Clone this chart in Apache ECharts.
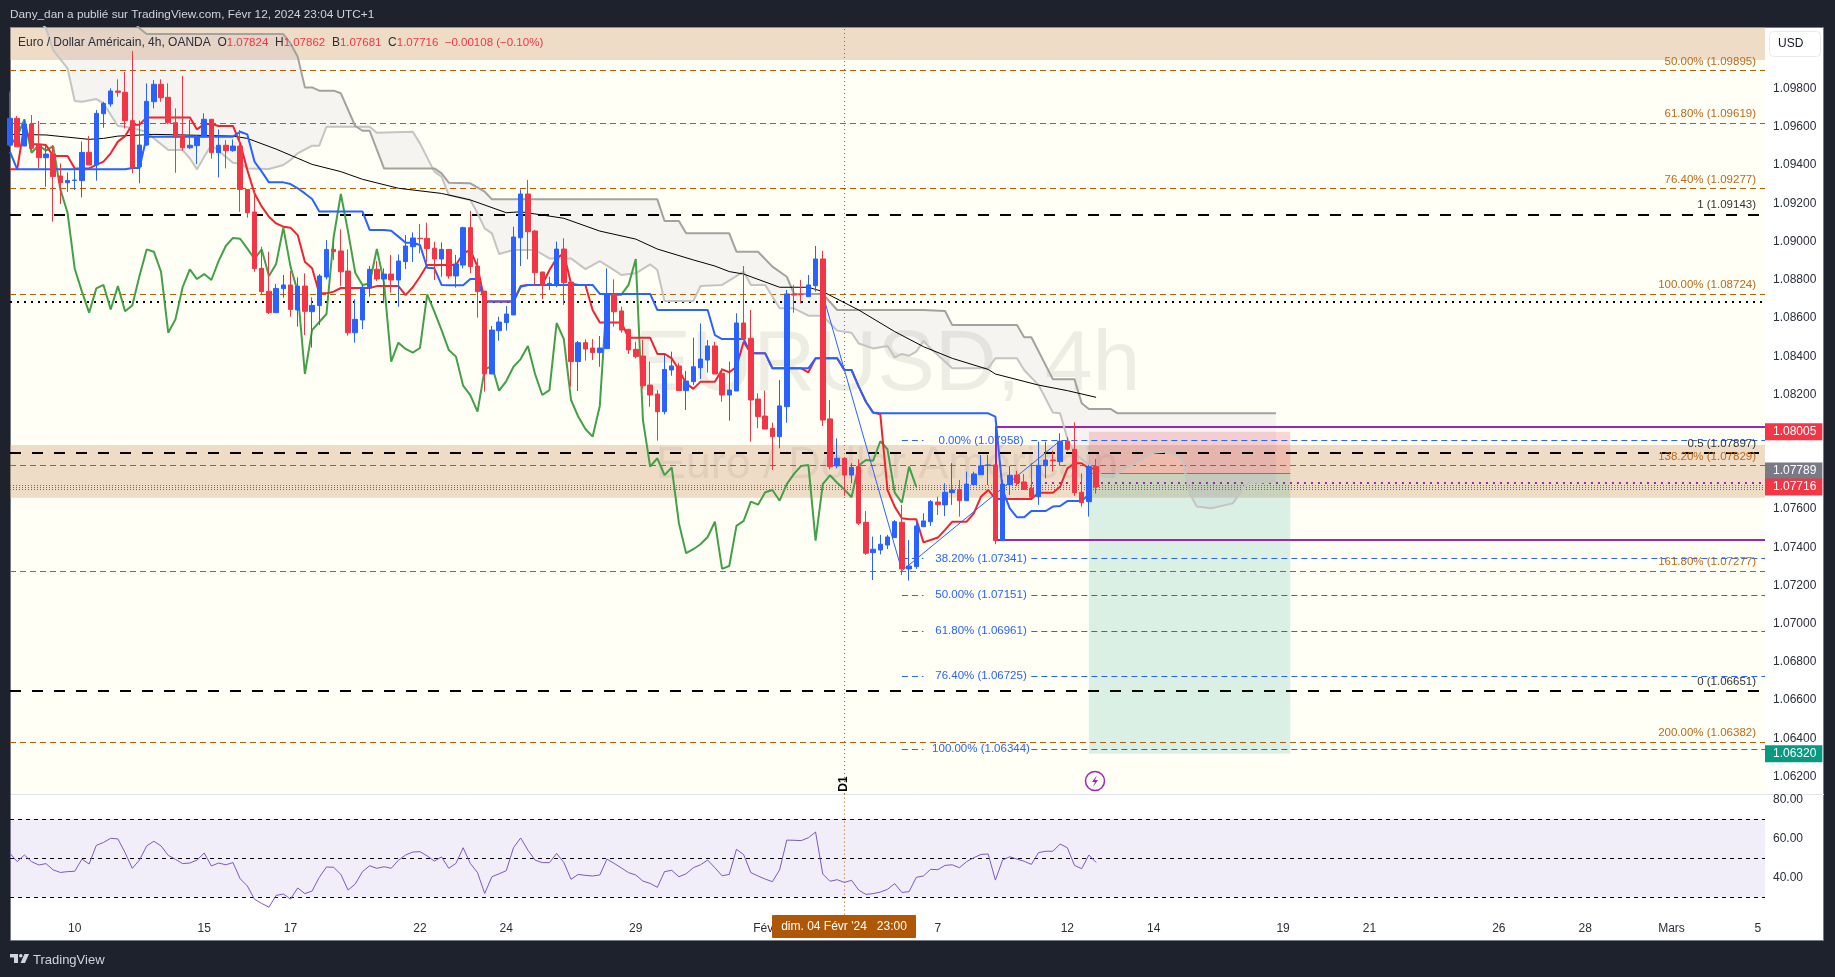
<!DOCTYPE html>
<html><head><meta charset="utf-8">
<style>html,body{margin:0;padding:0;background:#1e222d}#c{width:1835px;height:977px}</style>
<script src="https://cdn.jsdelivr.net/npm/echarts@6/dist/echarts.min.js"></script>
</head><body><div id="c"></div>
<script>
const barOpen=[1.09505,1.09645,1.09500,1.09615,1.09505,1.09439,1.09458,1.09343,1.09308,1.09320,1.09319,1.09467,1.09401,1.09669,1.09720,1.09788,1.09781,1.09633,1.09392,1.09505,1.09732,1.09823,1.09755,1.09622,1.09552,1.09491,1.09502,1.09549,1.09640,1.09465,1.09504,1.09476,1.09500,1.09273,1.09155,1.08860,1.08740,1.08628,1.08754,1.08773,1.08642,1.08767,1.08633,1.08665,1.08815,1.08959,1.08951,1.08846,1.08523,1.08590,1.08757,1.08855,1.08804,1.08830,1.08799,1.08895,1.08973,1.09017,1.09017,1.08965,1.08909,1.08959,1.08820,1.08877,1.09073,1.08872,1.08741,1.08307,1.08534,1.08576,1.08616,1.09020,1.09249,1.09055,1.08841,1.08773,1.08778,1.08961,1.08788,1.08372,1.08471,1.08443,1.08419,1.08440,1.08724,1.08637,1.08541,1.08436,1.08401,1.08249,1.08202,1.08110,1.08328,1.08349,1.08220,1.08267,1.08340,1.08380,1.08454,1.08311,1.08197,1.08218,1.08574,1.08494,1.08176,1.08087,1.08023,1.07979,1.08136,1.08726,1.08724,1.08712,1.08769,1.08909,1.08072,1.07826,1.07866,1.07778,1.07822,1.07531,1.07372,1.07386,1.07412,1.07451,1.07531,1.07287,1.07299,1.07508,1.07534,1.07637,1.07622,1.07686,1.07702,1.07644,1.07728,1.07780,1.07829,1.07831,1.07435,1.07728,1.07778,1.07742,1.07709,1.07665,1.07827,1.07857,1.07848,1.07955,1.07913,1.07688,1.07639,1.07824];
const barClose=[1.09645,1.09496,1.09615,1.09488,1.09439,1.09458,1.09340,1.09308,1.09320,1.09322,1.09467,1.09401,1.09671,1.09723,1.09788,1.09781,1.09633,1.09388,1.09505,1.09734,1.09823,1.09753,1.09622,1.09545,1.09491,1.09504,1.09549,1.09640,1.09465,1.09504,1.09476,1.09500,1.09273,1.09151,1.08858,1.08738,1.08628,1.08755,1.08773,1.08645,1.08767,1.08635,1.08666,1.08820,1.08959,1.08947,1.08842,1.08523,1.08593,1.08761,1.08855,1.08804,1.08830,1.08799,1.08898,1.08977,1.09019,1.09015,1.08963,1.08909,1.08959,1.08820,1.08883,1.09073,1.08869,1.08738,1.08307,1.08537,1.08579,1.08621,1.09024,1.09249,1.09052,1.08837,1.08773,1.08781,1.08961,1.08785,1.08372,1.08471,1.08438,1.08419,1.08443,1.08724,1.08633,1.08537,1.08433,1.08398,1.08246,1.08197,1.08110,1.08331,1.08349,1.08220,1.08270,1.08345,1.08385,1.08454,1.08307,1.08197,1.08223,1.08574,1.08490,1.08171,1.08084,1.08019,1.07979,1.08140,1.08726,1.08720,1.08722,1.08773,1.08909,1.08066,1.07822,1.07866,1.07778,1.07818,1.07526,1.07369,1.07390,1.07416,1.07454,1.07534,1.07287,1.07302,1.07512,1.07538,1.07639,1.07623,1.07688,1.07700,1.07644,1.07731,1.07784,1.07826,1.07831,1.07435,1.07731,1.07777,1.07738,1.07703,1.07662,1.07829,1.07857,1.07853,1.07955,1.07913,1.07686,1.07634,1.07822,1.07716];
const barHigh=[1.09785,1.09657,1.09636,1.09662,1.09631,1.09505,1.09505,1.09409,1.09362,1.09374,1.09523,1.09552,1.09688,1.09732,1.09802,1.09849,1.09887,1.09997,1.09633,1.09828,1.09845,1.09849,1.09828,1.09697,1.09866,1.09636,1.09558,1.09671,1.09640,1.09587,1.09531,1.09535,1.09584,1.09273,1.09270,1.08973,1.08947,1.08778,1.08825,1.08846,1.08813,1.08834,1.08708,1.08830,1.09008,1.09029,1.09064,1.08959,1.08698,1.08773,1.08872,1.08898,1.08860,1.08930,1.08933,1.09034,1.09048,1.09092,1.09099,1.09000,1.08996,1.08959,1.08930,1.09078,1.09160,1.08912,1.08741,1.08558,1.08607,1.08663,1.09078,1.09273,1.09322,1.09061,1.08841,1.08816,1.09000,1.09017,1.08788,1.08480,1.08488,1.08490,1.08506,1.08860,1.08802,1.08659,1.08541,1.08476,1.08485,1.08372,1.08223,1.08406,1.08424,1.08363,1.08323,1.08497,1.08572,1.08485,1.08476,1.08337,1.08372,1.08625,1.08872,1.08642,1.08206,1.08220,1.08052,1.08276,1.08747,1.08773,1.08799,1.08825,1.08977,1.08951,1.08171,1.07970,1.07866,1.07840,1.07861,1.07590,1.07456,1.07465,1.07465,1.07543,1.07622,1.07438,1.07534,1.07578,1.07648,1.07665,1.07735,1.07840,1.07752,1.07796,1.07796,1.07883,1.07883,1.07831,1.07752,1.07826,1.07801,1.07784,1.07840,1.07953,1.07953,1.07906,1.07997,1.07976,1.08054,1.07787,1.07831,1.07862];
const barLow=[1.09496,1.09496,1.09500,1.09479,1.09383,1.09287,1.09104,1.09197,1.09261,1.09270,1.09231,1.09401,1.09319,1.09596,1.09706,1.09758,1.09592,1.09357,1.09305,1.09502,1.09697,1.09732,1.09615,1.09360,1.09476,1.09484,1.09406,1.09545,1.09434,1.09336,1.09383,1.09470,1.09156,1.09125,1.08842,1.08720,1.08621,1.08628,1.08706,1.08607,1.08555,1.08511,1.08445,1.08563,1.08802,1.08904,1.08767,1.08508,1.08471,1.08542,1.08712,1.08794,1.08677,1.08733,1.08659,1.08856,1.08893,1.08938,1.08890,1.08799,1.08816,1.08806,1.08759,1.08860,1.08834,1.08602,1.08215,1.08307,1.08481,1.08534,1.08616,1.08872,1.08907,1.08773,1.08699,1.08747,1.08761,1.08668,1.08241,1.08218,1.08377,1.08380,1.08345,1.08440,1.08555,1.08523,1.08412,1.08389,1.08232,1.08136,1.07958,1.08096,1.08298,1.08220,1.08119,1.08249,1.08281,1.08314,1.08307,1.08162,1.08063,1.08218,1.08490,1.07953,1.08023,1.08019,1.07805,1.07918,1.08052,1.08628,1.08677,1.08712,1.08738,1.08035,1.07808,1.07813,1.07670,1.07735,1.07517,1.07360,1.07229,1.07363,1.07391,1.07451,1.07255,1.07226,1.07287,1.07508,1.07512,1.07569,1.07564,1.07622,1.07561,1.07644,1.07728,1.07780,1.07726,1.07416,1.07435,1.07674,1.07721,1.07700,1.07657,1.07622,1.07761,1.07796,1.07827,1.07906,1.07669,1.07613,1.07561,1.07681];
const tenkan=[1.09378,1.09378,1.09610,1.09509,1.09509,1.09505,1.09448,1.09448,1.09448,1.09383,1.09383,1.09383,1.09401,1.09418,1.09462,1.09523,1.09552,1.09612,1.09612,1.09650,1.09650,1.09650,1.09650,1.09650,1.09650,1.09650,1.09587,1.09615,1.09615,1.09605,1.09605,1.09605,1.09514,1.09374,1.09252,1.09183,1.09130,1.09095,1.09078,1.09073,1.09034,1.08895,1.08860,1.08729,1.08729,1.08738,1.08757,1.08757,1.08757,1.08757,1.08757,1.08767,1.08767,1.08767,1.08767,1.08720,1.08761,1.08816,1.08877,1.08877,1.08877,1.08877,1.08877,1.08938,1.08956,1.08869,1.08686,1.08686,1.08686,1.08686,1.08686,1.08767,1.08773,1.08773,1.08773,1.08851,1.08912,1.08938,1.08781,1.08773,1.08773,1.08642,1.08576,1.08576,1.08576,1.08576,1.08497,1.08497,1.08497,1.08497,1.08412,1.08412,1.08389,1.08328,1.08258,1.08229,1.08267,1.08267,1.08267,1.08331,1.08316,1.08345,1.08476,1.08415,1.08415,1.08415,1.08337,1.08337,1.08337,1.08337,1.08337,1.08316,1.08389,1.08389,1.08389,1.08389,1.08328,1.08328,1.08241,1.08162,1.08105,1.08096,1.07700,1.07613,1.07552,1.07547,1.07547,1.07426,1.07438,1.07451,1.07491,1.07534,1.07534,1.07534,1.07578,1.07665,1.07700,1.07653,1.07653,1.07653,1.07653,1.07653,1.07653,1.07686,1.07686,1.07686,1.07717,1.07813,1.07840,1.07840,1.07813,1.07813];
const kijun=[1.09470,1.09378,1.09378,1.09378,1.09378,1.09378,1.09378,1.09378,1.09378,1.09378,1.09378,1.09378,1.09378,1.09378,1.09378,1.09378,1.09378,1.09385,1.09385,1.09549,1.09549,1.09549,1.09549,1.09549,1.09549,1.09549,1.09549,1.09549,1.09549,1.09549,1.09549,1.09549,1.09575,1.09561,1.09418,1.09366,1.09310,1.09310,1.09310,1.09301,1.09279,1.09252,1.09223,1.09158,1.09158,1.09158,1.09158,1.09158,1.09158,1.09158,1.09061,1.09061,1.09061,1.09057,1.09026,1.08994,1.08994,1.08982,1.08863,1.08860,1.08773,1.08771,1.08771,1.08771,1.08804,1.08804,1.08686,1.08686,1.08686,1.08686,1.08686,1.08764,1.08773,1.08773,1.08773,1.08773,1.08773,1.08773,1.08773,1.08773,1.08773,1.08773,1.08726,1.08726,1.08726,1.08726,1.08726,1.08726,1.08726,1.08726,1.08642,1.08642,1.08642,1.08642,1.08642,1.08642,1.08642,1.08642,1.08511,1.08490,1.08490,1.08490,1.08490,1.08415,1.08415,1.08415,1.08337,1.08337,1.08337,1.08337,1.08337,1.08337,1.08389,1.08389,1.08389,1.08389,1.08328,1.08328,1.08241,1.08162,1.08105,1.08101,1.08101,1.08101,1.08101,1.08101,1.08101,1.08101,1.08101,1.08101,1.08101,1.08101,1.08101,1.08101,1.08101,1.08101,1.08101,1.08084,1.07700,1.07604,1.07557,1.07557,1.07590,1.07590,1.07590,1.07613,1.07616,1.07642,1.07642,1.07642,1.07677];
const chikou=[1.09504,1.09549,1.09640,1.09465,1.09504,1.09476,1.09500,1.09273,1.09151,1.08858,1.08738,1.08628,1.08755,1.08773,1.08645,1.08767,1.08635,1.08666,1.08820,1.08959,1.08947,1.08842,1.08523,1.08593,1.08761,1.08855,1.08804,1.08830,1.08799,1.08898,1.08977,1.09019,1.09015,1.08963,1.08909,1.08959,1.08820,1.08883,1.09073,1.08869,1.08738,1.08307,1.08537,1.08579,1.08621,1.09024,1.09249,1.09052,1.08837,1.08773,1.08781,1.08961,1.08785,1.08372,1.08471,1.08438,1.08419,1.08443,1.08724,1.08633,1.08537,1.08433,1.08398,1.08246,1.08197,1.08110,1.08331,1.08349,1.08220,1.08270,1.08345,1.08385,1.08454,1.08307,1.08197,1.08223,1.08574,1.08490,1.08171,1.08084,1.08019,1.07979,1.08140,1.08726,1.08720,1.08722,1.08773,1.08909,1.08066,1.07822,1.07866,1.07778,1.07818,1.07526,1.07369,1.07390,1.07416,1.07454,1.07534,1.07287,1.07302,1.07512,1.07538,1.07639,1.07623,1.07688,1.07700,1.07644,1.07731,1.07784,1.07826,1.07831,1.07435,1.07731,1.07777,1.07738,1.07703,1.07662,1.07829,1.07857,1.07853,1.07955,1.07913,1.07686,1.07634,1.07822,1.07716];
// [bar index, price] vertices
const senkouA=[[4,1.10159],[5,1.10116],[6,1.10002],[8,1.09906],[9,1.09736],[10,1.09732],[12,1.09746],[13,1.09723],[15,1.09605],[16,1.09601],[18,1.09584],[19,1.09575],[20,1.09540],[22,1.09479],[24,1.09479],[25,1.09436],[26,1.09378],[27,1.09444],[28,1.09505],[31,1.09413],[32,1.09409],[33,1.09383],[36,1.09380],[38,1.09401],[39,1.09427],[40,1.09462],[42,1.09502],[43,1.09502],[44,1.09601],[50,1.09601],[51,1.09570],[56,1.09575],[57,1.09514],[59,1.09366],[60,1.09340],[61,1.09244],[64,1.09218],[65,1.09148],[66,1.09069],[67,1.09043],[68,1.08935],[70,1.08956],[73,1.08956],[75,1.08912],[78,1.08912],[80,1.08856],[82,1.08898],[84,1.08851],[85,1.08825],[87,1.08834],[89,1.08881],[90,1.08851],[91,1.08689],[95,1.08689],[96,1.08767],[99,1.08773],[102,1.08843],[103,1.08773],[105,1.08773],[107,1.08651],[109,1.08651],[111,1.08612],[113,1.08612],[115,1.08534],[117,1.08523],[118,1.08467],[120,1.08441],[122,1.08454],[123,1.08394],[124,1.08412],[125,1.08403],[126,1.08424],[127,1.08480],[128,1.08441],[131,1.08337],[136,1.08337],[137,1.08389],[140,1.08389],[141,1.08328],[143,1.08249],[145,1.08105],[146,1.08101],[147,1.07970],[148,1.07892],[152,1.07770],[153,1.07766],[159,1.07895],[161,1.07901],[163,1.07866],[164,1.07683],[165,1.07613],[167,1.07604],[170,1.07630],[172,1.07735],[176,1.07744]];
const senkouB=[[17,1.10159],[18,1.10116],[19,1.10086],[38,1.10086],[39,1.10037],[40,1.09967],[41,1.09807],[42,1.09807],[43,1.09790],[45,1.09790],[46,1.09776],[48,1.09605],[49,1.09580],[50,1.09580],[52,1.09383],[59,1.09383],[60,1.09357],[61,1.09308],[64,1.09305],[66,1.09261],[67,1.09221],[90,1.09221],[91,1.09108],[93,1.09108],[94,1.09043],[100,1.09043],[101,1.08947],[104,1.08947],[106,1.08869],[108,1.08816],[109,1.08726],[113,1.08726],[115,1.08642],[127,1.08642],[130,1.08637],[131,1.08563],[140,1.08563],[141,1.08499],[142,1.08499],[145,1.08279],[148,1.08279],[149,1.08154],[150,1.08124],[153,1.08124],[154,1.08101],[176,1.08101]];
const trendAverage=[[0,1.09561],[5,1.09558],[11,1.09535],[13,1.09540],[15,1.09552],[20,1.09561],[24,1.09558],[31,1.09552],[33,1.09540],[37,1.09484],[40,1.09436],[42,1.09404],[46,1.09366],[49,1.09326],[54,1.09279],[60,1.09252],[64,1.09218],[69,1.09151],[71,1.09156],[77,1.09122],[82,1.09055],[87,1.09013],[90,1.08961],[95,1.08904],[98,1.08872],[100,1.08843],[102,1.08830],[107,1.08761],[111,1.08761],[113,1.08738],[118,1.08642],[123,1.08529],[127,1.08450],[131,1.08389],[136,1.08331],[137,1.08307],[143,1.08249],[147,1.08220],[151,1.08185]];
const fibSwing=[[113,1.08724],[124,1.07277],[146,1.07958]];
const rsi=[52.4,48.2,51.6,48.2,46.5,47.2,44.0,42.7,43.1,43.3,49.5,47.0,56.5,58.0,60.1,59.8,52.8,44.8,49.0,56.2,58.6,56.2,51.4,49.4,47.2,47.5,49.0,52.6,46.0,47.5,46.6,47.7,39.5,35.8,29.0,26.9,25.0,31.0,31.7,29.1,34.8,31.9,33.2,40.2,45.5,45.3,41.7,33.7,36.8,43.1,46.1,44.8,45.6,44.8,48.9,51.6,53.1,53.3,51.1,48.5,50.6,44.8,47.3,55.3,47.3,42.6,32.0,40.5,42.0,43.6,55.3,60.3,54.1,49.0,47.7,47.7,52.4,47.8,39.2,41.7,41.2,40.9,41.4,49.5,47.3,45.0,42.6,41.4,38.3,37.1,35.1,43.1,43.8,40.5,42.0,45.1,46.6,49.0,45.1,41.0,41.7,54.5,51.8,42.6,40.9,39.3,38.0,44.0,59.2,59.1,58.9,60.4,63.3,41.9,38.2,39.0,37.6,38.7,33.7,31.5,31.9,32.7,34.1,37.0,32.5,32.9,40.2,40.9,44.3,44.1,46.3,46.6,45.1,48.2,50.2,51.9,52.1,38.8,49.0,50.7,49.5,48.4,46.8,52.8,53.5,53.5,57.2,55.3,46.3,44.6,51.6,47.8];

const orangeLevels=[1.09895,1.09619,1.09277,1.08724,1.07829,1.07277,1.06382];
const orangeLabels=['50.00% (1.09895)','61.80% (1.09619)','76.40% (1.09277)','100.00% (1.08724)','138.20% (1.07829)','161.80% (1.07277)','200.00% (1.06382)'];
const blackLevels=[1.09143,1.07897,1.06651];
const blackLabels=['1 (1.09143)','0.5 (1.07897)','0 (1.06651)'];
const blueLevels=[1.07958,1.07341,1.07151,1.06961,1.06725,1.06344];
const blueLabels=['0.00% (1.07958)','38.20% (1.07341)','50.00% (1.07151)','61.80% (1.06961)','76.40% (1.06725)','100.00% (1.06344)'];
const dottedBlack=1.08685, dottedPurple=1.07737, dottedRed=[1.07716,1.07724], dottedBlue=1.07704;
const boxHigh=1.08031, boxLow=1.07440;
const bandTop=[1.10123,1.0995], bandMid=[1.07936,1.07660];
const riskTop=1.08005, entry=1.07789, target=1.06320, lastClose=1.07716;
const priceTicks=[1.098,1.096,1.094,1.092,1.09,1.088,1.086,1.084,1.082,1.076,1.074,1.072,1.07,1.068,1.066,1.064,1.062];
const rsiTicks=[40,60,80], rsiLevels=[70,50,30];
const timeTickIndex=[9,27,39,57,69,87,105,129,147,159,177,189,207,219,231,243];
const timeTickLabels=['10','15','17','22','24','29','Févr','7','12','14','19','21','26','28','Mars','5'];
const barCount=245, lastSlot=244;
const categories=Array.from({length:barCount},(_,i)=>String(i));
const crossIndex=116, fibStart=124, fibGapStart=127, fibGapEnd=142, fibLabelIndex=135, boxStart=137, toolStart=150, toolEnd=178, dotStart=140;

const FONT='"Liberation Sans",sans-serif';
const candles=barOpen.map((o,i)=>[o,barClose[i],barLow[i],barHigh[i]]);
const tickMap={};timeTickIndex.forEach((t,i)=>tickMap[t]=timeTickLabels[i]);
const empty=(extra)=>Object.assign({type:'line',data:[],symbol:'none',silent:true,animation:false},extra);
const seg=(v,a,b,label)=>[{coord:[a,v],label:label},{coord:[b,v]}];
const endLab=(color)=>({show:true,position:'insideEndTop',color:color,fontSize:11.5,fontFamily:FONT,distance:[9,3]});

const series=[
 {type:'custom',z:2,silent:true,clip:true,data:[[0,1.08]],
  renderItem:(p,api)=>{const pts=senkouA.concat(senkouB.slice().reverse()).map(d=>api.coord(d));
   return {type:'polygon',shape:{points:pts},style:{fill:'rgba(115,100,190,0.07)'}};}},
 empty({z:4,markArea:{silent:true,itemStyle:{color:'rgba(212,167,131,0.4)'},data:[
   [{coord:[0,bandTop[0]]},{coord:[lastSlot,bandTop[1]]}],[{coord:[0,bandMid[0]]},{coord:[lastSlot,bandMid[1]]}]]}}),
 empty({z:3,markLine:{silent:true,symbol:'none',animation:false,lineStyle:{color:'#b45f06',type:[6,4],width:1},label:endLab('#bb6a1a'),
   data:orangeLevels.map((v,i)=>seg(v,0,lastSlot,{formatter:orangeLabels[i]}))}}),
 empty({z:3,markLine:{silent:true,symbol:'none',animation:false,lineStyle:{color:'#000',type:[11,11],width:2},label:endLab('#333'),
   data:blackLevels.map((v,i)=>seg(v,0,lastSlot,{formatter:blackLabels[i]}))}}),
 empty({z:3,markLine:{silent:true,symbol:'none',animation:false,lineStyle:{color:'#000',type:[2,5],width:2},label:{show:false},
   data:[seg(dottedBlack,0,lastSlot)]}}),
 empty({z:3,markLine:{silent:true,symbol:'none',animation:false,lineStyle:{color:'#f23645',type:[1,2],width:1},label:{show:false},
   data:dottedRed.map(v=>seg(v,0,lastSlot))}}),
 empty({z:3,markLine:{silent:true,symbol:'none',animation:false,lineStyle:{color:'#2962ff',type:[1,2],width:1},label:{show:false},
   data:[seg(dottedBlue,0,lastSlot)]}}),
 empty({z:3,markLine:{silent:true,symbol:'none',animation:false,lineStyle:{color:'#9c27b0',type:[2,5],width:2},label:{show:false},
   data:[seg(dottedPurple,dotStart,lastSlot)]}}),
 empty({z:3,markLine:{silent:true,symbol:'none',animation:false,lineStyle:{color:'#2962ff',type:[6,4],width:1},label:{show:false},
   data:blueLevels.flatMap(v=>[seg(v,fibStart,fibGapStart),seg(v,fibGapEnd,lastSlot)])},
   markPoint:{silent:true,animation:false,symbol:'circle',symbolSize:0,
   label:{show:true,position:'inside',color:'#2962ff',fontSize:11.5,fontFamily:FONT},
   data:blueLevels.map((v,i)=>({coord:[fibLabelIndex,v],value:blueLabels[i],label:{formatter:blueLabels[i]}}))}}),
 empty({z:4,markArea:{silent:true,itemStyle:{color:'rgba(242,54,69,0.2)'},data:[[{coord:[toolStart,riskTop]},{coord:[toolEnd,entry]}]]}}),
 empty({z:4,markArea:{silent:true,itemStyle:{color:'rgba(8,153,129,0.15)'},data:[[{coord:[toolStart,entry]},{coord:[toolEnd,target]}]]},
   markLine:{silent:true,symbol:'none',animation:false,lineStyle:{color:'#787b86',type:'solid',width:1},label:{show:false},
   data:[seg(entry,toolStart,toolEnd)]}}),
 {type:'line',name:'Senkou A',z:5,data:senkouA,symbol:'none',silent:true,animation:false,lineStyle:{color:'#c4c4c2',width:2}},
 {type:'line',name:'Senkou B',z:5,data:senkouB,symbol:'none',silent:true,animation:false,lineStyle:{color:'#a3a29e',width:2}},
 {type:'line',name:'Average',z:5,data:trendAverage,symbol:'none',silent:true,animation:false,lineStyle:{color:'#000',width:1}},
 {type:'line',name:'Chikou',z:5,data:chikou,symbol:'none',silent:true,animation:false,lineStyle:{color:'#43a047',width:2}},
 {type:'line',name:'Tenkan',z:5,data:tenkan,symbol:'none',silent:true,animation:false,lineStyle:{color:'#f2222f',width:2}},
 {type:'line',name:'Kijun',z:5,data:kijun,symbol:'none',silent:true,animation:false,lineStyle:{color:'#2962ff',width:2}},
 {type:'line',name:'Swing',z:5,data:fibSwing,symbol:'none',silent:true,animation:false,lineStyle:{color:'#2962ff',width:1}},
 {type:'candlestick',name:'EURUSD',z:6,data:candles,barWidth:5,silent:true,animation:false,
  itemStyle:{color:'#2962ff',color0:'#f23645',borderColor:'#2962ff',borderColor0:'#f23645',borderWidth:1}},
 empty({z:7,markLine:{silent:true,symbol:'none',animation:false,lineStyle:{color:'#9c27b0',type:'solid',width:2},label:{show:false},
   data:[seg(boxHigh,boxStart,lastSlot),seg(boxLow,boxStart,lastSlot),[{coord:[boxStart,boxHigh]},{coord:[boxStart,boxLow]}]]}}),
 empty({z:8,markLine:{silent:true,symbol:'none',animation:false,lineStyle:{color:'#b45f06',type:[1,3],width:1},label:{show:false},
   data:[{xAxis:crossIndex}]}}),
 empty({z:20,markLine:{silent:true,symbol:'none',animation:false,lineStyle:{width:0},
   label:{show:true,position:'end',distance:0,color:'#fff',fontSize:12,fontFamily:FONT,padding:[2,6,2,8],lineHeight:13},
   data:[
    seg(riskTop,lastSlot-1,lastSlot,{formatter:riskTop.toFixed(5),backgroundColor:'#f23645'}),
    seg(entry,lastSlot-1,lastSlot,{formatter:entry.toFixed(5),backgroundColor:'#787b86',offset:[0,-2]}),
    seg(lastClose,lastSlot-1,lastSlot,{formatter:lastClose.toFixed(5),backgroundColor:'#f23645'}),
    seg(target,lastSlot-1,lastSlot,{formatter:target.toFixed(5),backgroundColor:'#089981'})]}}),
 {type:'line',name:'RSI',xAxisIndex:1,yAxisIndex:1,z:5,data:rsi,symbol:'none',silent:true,animation:false,lineStyle:{color:'#7e57c2',width:1},
  markArea:{silent:true,itemStyle:{color:'rgba(126,87,194,0.1)'},data:[[{coord:[0,rsiLevels[0]]},{coord:[lastSlot,rsiLevels[2]]}]]},
  markLine:{silent:true,symbol:'none',animation:false,lineStyle:{color:'#000',type:[4,4],width:1},label:{show:false},
   data:rsiLevels.map(v=>seg(v,0,lastSlot))}},
 empty({xAxisIndex:1,yAxisIndex:1,z:8,markLine:{silent:true,symbol:'none',animation:false,lineStyle:{color:'#b45f06',type:[1,3],width:1},label:{show:false},
   data:[{xAxis:crossIndex}]}})
];
const axisTxt={color:'#2a2e39',fontSize:12,fontFamily:FONT};
const opt={
 backgroundColor:'#1e222d',animation:false,
 grid:[{left:10,top:27,width:1755,height:767},{left:10,top:794,width:1755,height:120.6}],
 xAxis:[
  {type:'category',gridIndex:0,data:categories,boundaryGap:false,axisLine:{show:false},axisTick:{show:false},axisLabel:{show:false},splitLine:{show:false}},
  {type:'category',gridIndex:1,data:categories,boundaryGap:false,axisLine:{show:false},axisTick:{show:false},splitLine:{show:false},
   axisLabel:Object.assign({margin:8,hideOverlap:false,interval:(i)=>tickMap[i]!==undefined,formatter:(v,i)=>tickMap[i]||''},axisTxt)}],
 yAxis:[
  {type:'value',gridIndex:0,position:'right',min:1.06109,max:1.10123,scale:true,axisLine:{show:false},axisTick:{show:false},splitLine:{show:false},
   axisLabel:Object.assign({customValues:priceTicks,margin:8,padding:[2,0,0,0],formatter:v=>v.toFixed(5)},axisTxt)},
  {type:'value',gridIndex:1,position:'right',min:21.2,max:82.7,scale:true,axisLine:{show:false},axisTick:{show:false},splitLine:{show:false},
   axisLabel:Object.assign({customValues:rsiTicks,margin:8,padding:[2,0,0,0],formatter:v=>v.toFixed(2)},axisTxt)}],
 series:series,
 graphic:{elements:[
  {type:'rect',z:-10,silent:true,shape:{x:10.5,y:27.5,width:1813,height:913},style:{fill:'#fff',stroke:'#787b86',lineWidth:1}},
  {type:'rect',z:-9,silent:true,shape:{x:11,y:28,width:1754,height:766},style:{fill:'#fffff6'}},
  {type:'line',z:-8,silent:true,shape:{x1:11,y1:794.5,x2:1824,y2:794.5},style:{stroke:'#e0e3eb',lineWidth:1}},
  {type:'text',z:-5,silent:true,style:{x:887,y:366,text:'EURUSD, 4h',align:'center',verticalAlign:'middle',fill:'rgba(60,60,60,0.09)',font:'86px '+FONT}},
  {type:'text',z:-5,silent:true,style:{x:887,y:466,text:'Euro / Dollar Américain',align:'center',verticalAlign:'middle',fill:'rgba(60,60,60,0.11)',font:'45px '+FONT}},
  {type:'text',z:100,silent:true,style:{x:10,y:15,text:'Dany_dan a publié sur TradingView.com, Févr 12, 2024 23:04 UTC+1',verticalAlign:'middle',fill:'#d1d4dc',font:'11.8px '+FONT}},
  {type:'text',z:100,silent:true,x:18,y:42.5,style:{
    text:'{k|Euro / Dollar Américain, 4h, OANDA  O}{v|1.07824}{k|  H}{v|1.07862}{k|  B}{v|1.07681}{k|  C}{v|1.07716}{v|  −0.00108 (−0.10%)}',
    verticalAlign:'middle',rich:{k:{fill:'#2a2e39',font:'12px '+FONT},v:{fill:'#f23645',font:'11.5px '+FONT}}}},
  {type:'rect',z:100,silent:true,shape:{x:1769.5,y:31.5,width:51,height:25,r:4},style:{fill:'#fff',stroke:'#e8eaf0',lineWidth:1}},
  {type:'text',z:101,silent:true,style:{x:1778,y:44,text:'USD',verticalAlign:'middle',fill:'#131722',font:'12px '+FONT}},
  {type:'rect',z:100,silent:true,shape:{x:772,y:915,width:144,height:23,r:1},style:{fill:'#ae5706'}},
  {type:'text',z:101,silent:true,style:{x:844,y:927,text:"dim. 04 Févr '24   23:00",align:'center',verticalAlign:'middle',fill:'#fff',font:'12px '+FONT}},
  {type:'text',z:100,silent:true,x:844,y:784,rotation:Math.PI/2,style:{x:0,y:0,text:'D1',align:'center',verticalAlign:'middle',fill:'#000',font:'bold 12px '+FONT}},
  {type:'circle',z:100,silent:true,shape:{cx:1095,cy:781,r:9.5},style:{fill:'#fffff6',stroke:'#9c27b0',lineWidth:1.5}},
  {type:'polygon',z:101,silent:true,shape:{points:[[1097,775],[1092,782],[1095,782],[1093,787],[1098,780],[1095,780]]},style:{fill:'#9c27b0'}},
  {type:'polygon',z:100,silent:true,shape:{points:[[10,954],[18,954],[18,963],[14,963],[14,957.5],[10,957.5]]},style:{fill:'#d1d4dc'}},
  {type:'circle',z:100,silent:true,shape:{cx:20.8,cy:955.8,r:1.8},style:{fill:'#d1d4dc'}},
  {type:'polygon',z:100,silent:true,shape:{points:[[24.5,954],[29,954],[25,963],[20.5,963]]},style:{fill:'#d1d4dc'}},
  {type:'text',z:100,silent:true,style:{x:33,y:960,text:'TradingView',verticalAlign:'middle',fill:'#d1d4dc',font:'13px '+FONT}}
 ]}
};
echarts.init(document.getElementById('c')).setOption(opt);
</script></body></html>
